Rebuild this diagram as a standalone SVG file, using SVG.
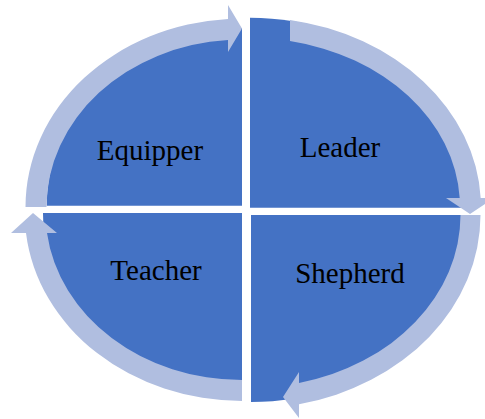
<svg xmlns="http://www.w3.org/2000/svg" width="485" height="419" viewBox="0 0 485 419">
<style>
.q{fill:#4472C4;stroke:none}
.arr{fill:#B0BEE0;stroke:none}
.lbl{font-family:"Liberation Serif","Times New Roman",serif;font-size:29px;fill:#000;text-anchor:middle}
</style>
<rect width="485" height="419" fill="#fff"/>
<g id="equipper">
<path class="q" d="M242 205.7 L46.7 205.7 A195.3 177.7 0 0 1 242 28 Z"/>
</g>
<g id="leader">
<path class="q" d="M250 207.7 L250 17.7 A222 190 0 0 1 472 207.7 Z"/>
</g>
<g id="shepherd">
<path class="q" d="M251 215 L471 215 A220 187 0 0 1 251 402 Z"/>
</g>
<g id="teacher">
<path class="q" d="M242 213 L242 391 A199 178 0 0 1 43 213 Z"/>
</g>
<g id="connectors">
<path class="arr" d="M25.5 207 A216.5 188.5 0 0 1 228 18.9 L228 5 L242 28.5 L228 52 L228 39.9 A195.5 167.5 0 0 0 46.5 207 Z"/>
<path class="arr" d="M290 19.9 A231 190 0 0 1 480.7 198 L494 198 L470 214 L446 198 L459.7 198 A210 169 0 0 0 290 41.1 Z"/>
<path class="arr" d="M480.5 215 A229.5 193.5 0 0 1 299 404.2 L299 418 L283 397 L299 372 L299 382.9 A209.5 172.5 0 0 0 460.5 215 Z"/>
<path class="arr" d="M242 401 A217.2 188 0 0 1 26 233 L11 233 L33 213 L57 233 L47 233 A196.4 167 0 0 0 242 380 Z"/>
</g>
<g id="labels">
<text class="lbl" x="150" y="160">Equipper</text>
<text class="lbl" x="340" y="157">Leader</text>
<text class="lbl" x="156" y="280">Teacher</text>
<text class="lbl" x="350" y="283">Shepherd</text>
</g>
</svg>
